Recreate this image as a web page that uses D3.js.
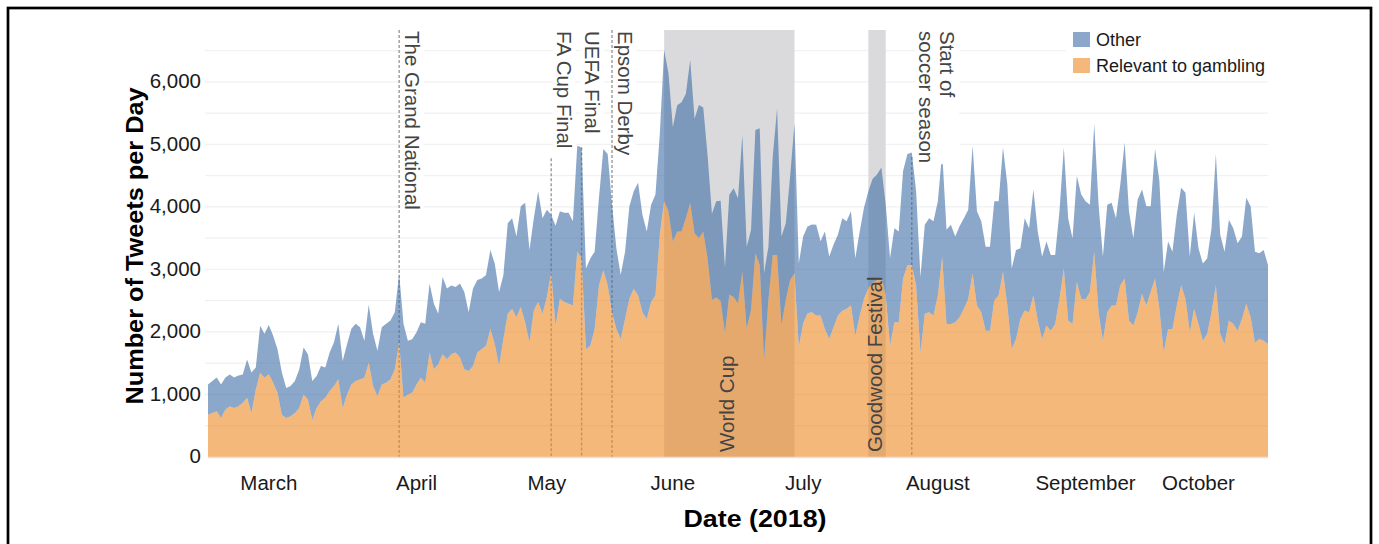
<!DOCTYPE html>
<html>
<head>
<meta charset="utf-8">
<script src="https://cdn.jsdelivr.net/npm/d3@7"></script>
<style>
  body { margin: 0; background: #fff; }
  svg { display: block; font-family: "Liberation Sans", Arial, sans-serif; }
</style>
</head>
<body>
<div id="chart"></div>
<script>
// one value per day, starting 1 March 2018
var firstDay = "2018-03-01";

// top of the stack (all tweets per day)
var totalTweets = [
  1160, 1215, 1270, 1160, 1270, 1320, 1270, 1305, 1320, 1560,
  1350, 1430, 2100, 1970, 2110, 1940, 1725, 1350, 1105, 1135,
  1215, 1400, 1750, 1645, 1215, 1295, 1455, 1430, 1670, 1835,
  2130, 1535, 1805, 2050, 2130, 2075, 1860, 2435, 1970, 1700,
  2075, 2130, 2185, 2315, 2935, 2130, 1860, 1885, 1995, 2155,
  2130, 2775, 2450, 2290, 2880, 2695, 2745, 2720, 2775, 2640,
  2315, 2695, 2830, 2855, 2910, 3310, 3095, 2640, 2910, 3740,
  3820, 3525, 4010, 4065, 3310, 3820, 4250, 3820, 3955, 3875,
  3700, 3930, 3905, 3905, 3770, 4980, 4950, 3015, 3175, 3285,
  4145, 4925, 4845, 4035, 3340, 2910, 3285, 4010, 4250, 4385,
  3875, 3605, 4035, 4200, 5165, 6510, 6135, 5275, 5625, 5675,
  5810, 6350, 5410, 5630, 5590, 4820, 3890, 4090, 4100, 3030,
  4195, 4300, 4140, 5150, 3365, 3630, 5230, 5260, 2940, 3365,
  4805, 5580, 3525, 3740, 4485, 5340, 3100, 3525, 3685, 3720,
  3715, 3450, 3605, 3205, 3400, 3555, 3820, 3770, 3930, 3180,
  3600, 3985, 4250, 4450, 4520, 4630, 4040, 3180, 3660, 3605,
  4575, 4845, 4870, 4250, 2880, 3715, 3820, 3770, 4090, 4870,
  3635, 3715, 3525, 3690, 3820, 3955, 4980, 3930, 3770, 3365,
  3365, 4090, 4090, 4950, 4360, 3015, 3310, 3340, 3820, 3660,
  4280, 3605, 3205, 3445, 3230, 3230, 3930, 4950, 3820, 3500,
  4495, 4200, 4090, 4035, 5330, 4035, 3205, 4035, 4065, 3820,
  4360, 5030, 3930, 3500, 4120, 4280, 4010, 4010, 4925, 4415,
  2960, 3445, 3285, 3875, 4305, 4225, 3205, 3905, 3340, 3095,
  3175, 3660, 4845, 3555, 3285, 3795, 3660, 3420, 3525, 4145,
  4010, 3285, 3260, 3310, 3070
];

// tweets relevant to gambling
var gamblingTweets = [
  677, 704, 731, 624, 758, 812, 785, 812, 866, 946,
  704, 1080, 1349, 1269, 1322, 1188, 1027, 677, 624, 650,
  704, 785, 1000, 919, 597, 785, 892, 946, 1054, 1134,
  1242, 785, 1000, 1161, 1215, 1242, 1269, 1511, 1134, 973,
  1161, 1188, 1242, 1403, 1833, 946, 1000, 1027, 1161, 1269,
  1188, 1672, 1403, 1484, 1645, 1564, 1645, 1672, 1591, 1403,
  1376, 1457, 1672, 1726, 1779, 2048, 1806, 1457, 1887, 2290,
  2371, 2236, 2398, 2156, 1833, 2344, 2478, 2290, 2559, 2962,
  2100, 2532, 2478, 2451, 2425, 3285, 3177, 1726, 1779, 2048,
  2747, 2989, 2747, 2317, 2048, 1887, 2209, 2532, 2693, 2586,
  2317, 2209, 2478, 2586, 3554, 4091, 3930, 3446, 3607, 3607,
  3822, 4064, 3580, 3500, 3607, 3177, 2510, 2550, 2495, 1985,
  2600, 2560, 2458, 2965, 2058, 2352, 3258, 3072, 1552, 2512,
  3232, 3232, 2112, 2512, 2832, 2938, 1765, 2138, 2300, 2317,
  2263, 2263, 2048, 1887, 2075, 2263, 2340, 2371, 2425, 1941,
  2250, 2532, 2700, 2790, 2828, 2881, 2586, 1779, 2156, 2156,
  2855, 3070, 3070, 2747, 1672, 2290, 2317, 2263, 2586, 3204,
  2129, 2129, 2156, 2236, 2371, 2532, 2935, 2425, 2317, 2021,
  2021, 2505, 2586, 2962, 2425, 1726, 1887, 2209, 2344, 2317,
  2586, 2183, 1887, 2102, 2021, 2129, 2532, 3016, 2183, 2129,
  2801, 2532, 2520, 2640, 3285, 2317, 1860, 2317, 2425, 2425,
  2747, 2855, 2183, 2102, 2317, 2613, 2425, 2640, 2855, 2371,
  1672, 2048, 2048, 2425, 2747, 2532, 1994, 2371, 2129, 1860,
  1968, 2317, 2747, 1968, 1806, 2183, 2129, 2021, 2209, 2451,
  2236, 1833, 1887, 1860, 1806
];

var seriesNames = ["Other", "Relevant to gambling"];

var monthNames = ["March", "April", "May", "June", "July", "August", "September", "October"];
var monthLabelDays = ["2018-03-15", "2018-04-18", "2018-05-18", "2018-06-16",
                      "2018-07-16", "2018-08-16", "2018-09-19", "2018-10-15"];

var yTicks = [0, 1000, 2000, 3000, 4000, 5000, 6000];
var gridValues = [500, 1000, 1500, 2000, 2500, 3000, 3500, 4000, 4500, 5000, 5500, 6000, 6500];

// single day events (dashed lines)
var eventNames = [["The Grand National"], ["FA Cup Final"], ["UEFA Final"], ["Epsom Derby"], ["Start of", "soccer season"]];
var eventDays = ["2018-04-14", "2018-05-19", "2018-05-26", "2018-06-02", "2018-08-10"];
var eventLineTop = [6830, 4780, 4950, 6830, 4800];

// multi day events (shaded bands)
var periodNames = ["World Cup", "Goodwood Festival"];
var periodStart = ["2018-06-14", "2018-07-31"];
var periodEnd = ["2018-07-14", "2018-08-04"];

var width = 1379, height = 544;
var plotLeft = 208, plotRight = 1268, plotTop = 30, plotBottom = 457;

var parse = d3.timeParse("%Y-%m-%d");
var day0 = parse(firstDay);

var rows = totalTweets.map(function(t, i) {
  return { date: d3.timeDay.offset(day0, i), gambling: gamblingTweets[i], other: t - gamblingTweets[i] };
});

var x = d3.scaleTime()
  .domain([day0, rows[rows.length - 1].date])
  .range([plotLeft, plotRight]);

var y = d3.scaleLinear()
  .domain([0, 6830])
  .range([plotBottom, plotTop]);

var svg = d3.select("#chart").append("svg")
  .attr("width", width)
  .attr("height", height);

// frame round the figure
svg.append("rect")
  .attr("x", 8).attr("y", 8)
  .attr("width", 1363).attr("height", 600)
  .attr("fill", "none")
  .attr("stroke", "#000")
  .attr("stroke-width", 2.7);

// grid
svg.append("g")
  .selectAll("line")
  .data(gridValues)
  .enter().append("line")
  .attr("x1", plotLeft - 3).attr("x2", plotRight)
  .attr("y1", function(d) { return y(d); })
  .attr("y2", function(d) { return y(d); })
  .attr("stroke", "#f1f1f1")
  .attr("stroke-width", 1.3);

// shaded periods
svg.append("g")
  .selectAll("rect")
  .data(periodNames)
  .enter().append("rect")
  .attr("x", function(d, i) { return x(parse(periodStart[i])); })
  .attr("width", function(d, i) { return x(parse(periodEnd[i])) - x(parse(periodStart[i])); })
  .attr("y", plotTop)
  .attr("height", plotBottom - plotTop)
  .attr("fill", "#dadadc");

// dashed event lines, under the see-through areas
svg.append("g")
  .selectAll("line")
  .data(eventDays)
  .enter().append("line")
  .attr("x1", function(d) { return x(parse(d)); })
  .attr("x2", function(d) { return x(parse(d)); })
  .attr("y1", function(d, i) { return y(eventLineTop[i]); })
  .attr("y2", plotBottom)
  .attr("stroke", "#9a9a9a")
  .attr("stroke-width", 1.4)
  .attr("stroke-dasharray", "3,2");

// stacked areas
var stack = d3.stack().keys(["gambling", "other"]);
var layers = stack(rows);
var colors = { gambling: "#ee8923", other: "#3e6ca5" };

var area = d3.area()
  .x(function(d) { return x(d.data.date); })
  .y0(function(d) { return y(d[0]); })
  .y1(function(d) { return y(d[1]); });

svg.append("g")
  .selectAll("path")
  .data(layers)
  .enter().append("path")
  .attr("d", area)
  .attr("fill", function(d) { return colors[d.key]; })
  .attr("fill-opacity", 0.6);

// base line
svg.append("line")
  .attr("x1", plotLeft).attr("x2", plotRight)
  .attr("y1", plotBottom + 0.5).attr("y2", plotBottom + 0.5)
  .attr("stroke", "#e2e2e2")
  .attr("stroke-width", 1.5);

// white box behind a text so the grid does not run through it
function backBox(g) {
  g.each(function() {
    var grp = d3.select(this);
    var b = grp.select("text").node().getBBox();
    grp.insert("rect", "text")
      .attr("x", b.x - 1).attr("y", b.y)
      .attr("width", b.width + 2).attr("height", b.height)
      .attr("fill", "#fff");
  });
}

// event labels, reading downwards from the top
var evG = svg.append("g")
  .selectAll("g")
  .data(eventNames)
  .enter().append("g")
  .attr("transform", function(d, i) {
    var dx = d.length > 1 ? 28.5 : (i == 2 ? 3 : 5.5);
    return "translate(" + (x(parse(eventDays[i])) + dx) + "," + (plotTop + 1) + ") rotate(90)";
  });

var ev = evG.append("text")
  .attr("fill", "#444")
  .style("font-size", "20.5px");

ev.selectAll("tspan")
  .data(function(d) { return d; })
  .enter().append("tspan")
  .attr("x", 0)
  .attr("dy", function(d, j) { return j == 0 ? 0 : 21; })
  .text(function(d) { return d; });

backBox(evG);

// period labels, reading upwards from the bottom
svg.append("g")
  .selectAll("text")
  .data(periodNames)
  .enter().append("text")
  .attr("transform", function(d, i) {
    var mid = (x(parse(periodStart[i])) + x(parse(periodEnd[i]))) / 2;
    return "translate(" + (mid + 4.5) + "," + (plotBottom - 5) + ") rotate(-90)";
  })
  .attr("fill", "#444")
  .style("font-size", "20.5px")
  .text(function(d) { return d; });

// y axis labels
svg.append("g")
  .selectAll("text")
  .data(yTicks)
  .enter().append("text")
  .attr("x", plotLeft - 7)
  .attr("y", function(d) { return y(d); })
  .attr("dy", "0.3em")
  .attr("text-anchor", "end")
  .attr("fill", "#1a1a1a")
  .style("font-size", "20.5px")
  .text(d3.format(","));

// x axis labels
svg.append("g")
  .selectAll("text")
  .data(monthNames)
  .enter().append("text")
  .attr("x", function(d, i) { return x(parse(monthLabelDays[i])); })
  .attr("y", 490)
  .attr("text-anchor", "middle")
  .attr("fill", "#1a1a1a")
  .style("font-size", "20.5px")
  .text(function(d) { return d; });

// axis titles
svg.append("text")
  .attr("x", 755).attr("y", 527)
  .attr("text-anchor", "middle")
  .attr("textLength", 143)
  .attr("lengthAdjust", "spacingAndGlyphs")
  .style("font-size", "23px")
  .style("font-weight", "bold")
  .text("Date (2018)");

svg.append("text")
  .attr("transform", "translate(143,246) rotate(-90)")
  .attr("text-anchor", "middle")
  .attr("textLength", 317)
  .attr("lengthAdjust", "spacingAndGlyphs")
  .style("font-size", "23px")
  .style("font-weight", "bold")
  .text("Number of Tweets per Day");

// legend
svg.append("rect")
  .attr("x", 1066).attr("y", 26)
  .attr("width", 206).attr("height", 54)
  .attr("fill", "#fff");

var legend = svg.append("g")
  .selectAll("g")
  .data(seriesNames)
  .enter().append("g")
  .attr("transform", function(d, i) { return "translate(1073," + (32 + i * 26) + ")"; });

legend.append("rect")
  .attr("width", 17).attr("height", 15)
  .attr("fill", function(d, i) { return i == 0 ? colors.other : colors.gambling; })
  .attr("fill-opacity", 0.6);

legend.append("text")
  .attr("x", 23).attr("y", 14)
  .attr("fill", "#1a1a1a")
  .style("font-size", "18px")
  .text(function(d) { return d; });
</script>
</body>
</html>
